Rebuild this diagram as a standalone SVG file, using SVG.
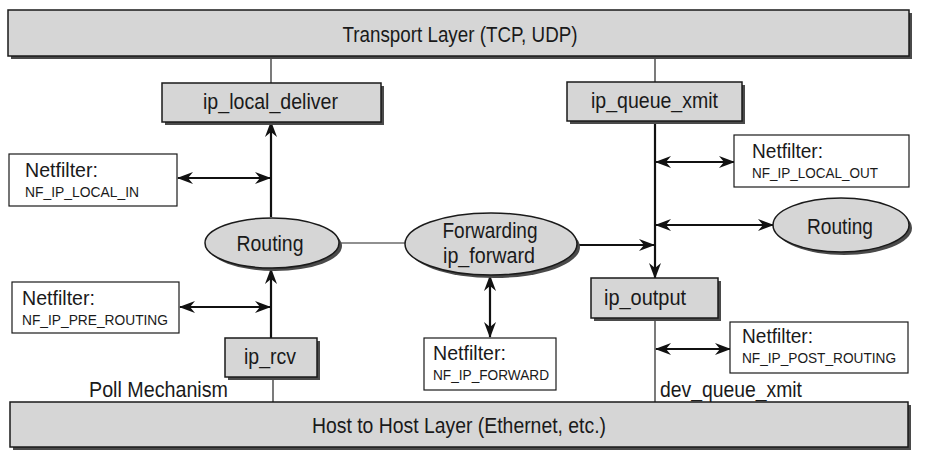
<svg xmlns="http://www.w3.org/2000/svg" width="925" height="462" viewBox="0 0 925 462">
<style>
.box{fill:#d6d6d6;stroke:#1a1a1a;stroke-width:1.5}
.sh{fill:#4a4a4a}
.nf{fill:#fff;stroke:#1a1a1a;stroke-width:1.2}
.t{font-family:"Liberation Sans",Arial,sans-serif;font-size:22px;fill:#1a1a1a}
.tn{font-family:"Liberation Sans",Arial,sans-serif;font-size:20.5px;fill:#1a1a1a}
.ts{font-family:"Liberation Sans",Arial,sans-serif;font-size:15px;fill:#1a1a1a}
.thick{stroke:#111;stroke-width:2.2;fill:none}
.thin{stroke:#222;stroke-width:1.2;fill:none}
</style>
<defs>
<marker id="ah" viewBox="0 0 16 12" refX="15" refY="6" markerWidth="16" markerHeight="12" markerUnits="userSpaceOnUse" orient="auto-start-reverse">
<path d="M0,0 L16,6 L0,12 L5,6 z" fill="#111"/>
</marker>
</defs>
<rect width="925" height="462" fill="#fff"/>

<g id="connectors">
<line class="thin" x1="271" y1="58" x2="271" y2="83"/>
<line class="thin" x1="655" y1="58" x2="655" y2="83"/>
<line class="thick" x1="271" y1="217" x2="271" y2="122" marker-end="url(#ah)"/>
<line class="thick" x1="178" y1="178" x2="270" y2="178" marker-start="url(#ah)" marker-end="url(#ah)"/>
<line class="thin" x1="340" y1="243" x2="406" y2="243"/>
<line class="thick" x1="271" y1="338" x2="271" y2="269" marker-end="url(#ah)"/>
<line class="thick" x1="180" y1="307" x2="270" y2="307" marker-start="url(#ah)" marker-end="url(#ah)"/>
<line class="thin" x1="273" y1="377" x2="273" y2="402"/>
<line class="thick" x1="655" y1="122" x2="655" y2="278" marker-end="url(#ah)"/>
<line class="thick" x1="656" y1="162" x2="734" y2="162" marker-start="url(#ah)" marker-end="url(#ah)"/>
<line class="thick" x1="656" y1="225" x2="773" y2="225" marker-start="url(#ah)" marker-end="url(#ah)"/>
<line class="thick" x1="576" y1="245" x2="654" y2="245" marker-end="url(#ah)"/>
<line class="thick" x1="490" y1="276" x2="490" y2="337" marker-start="url(#ah)" marker-end="url(#ah)"/>
<line class="thin" x1="655" y1="318" x2="655" y2="402"/>
<line class="thick" x1="656" y1="349" x2="730" y2="349" marker-start="url(#ah)" marker-end="url(#ah)"/>
</g>

<g id="transport">
<rect class="sh" x="11" y="13" width="901" height="46"/>
<rect class="box" x="8" y="10" width="901" height="46"/>
<text class="t" x="460" y="42" text-anchor="middle" textLength="235" lengthAdjust="spacingAndGlyphs">Transport Layer (TCP, UDP)</text>
</g>

<g id="ip_local_deliver">
<rect class="sh" x="165" y="86" width="219" height="39"/>
<rect class="box" x="162" y="83" width="219" height="39"/>
<text class="t" x="270.5" y="109" text-anchor="middle" textLength="135" lengthAdjust="spacingAndGlyphs">ip_local_deliver</text>
</g>

<g id="ip_queue_xmit">
<rect class="sh" x="570" y="85" width="175" height="39"/>
<rect class="box" x="567" y="82" width="175" height="39"/>
<text class="t" x="654.5" y="108" text-anchor="middle" textLength="127" lengthAdjust="spacingAndGlyphs">ip_queue_xmit</text>
</g>

<g id="nf_local_in">
<rect class="nf" x="9" y="154" width="168" height="52"/>
<text class="tn" x="25" y="177" textLength="73" lengthAdjust="spacingAndGlyphs">Netfilter:</text>
<text class="ts" x="25" y="197" textLength="114" lengthAdjust="spacingAndGlyphs">NF_IP_LOCAL_IN</text>
</g>

<g id="nf_local_out">
<rect class="nf" x="734" y="135" width="175" height="52"/>
<text class="tn" x="752" y="158" textLength="71" lengthAdjust="spacingAndGlyphs">Netfilter:</text>
<text class="ts" x="752" y="178" textLength="126" lengthAdjust="spacingAndGlyphs">NF_IP_LOCAL_OUT</text>
</g>

<g id="routing_in">
<ellipse class="sh" cx="275" cy="246" rx="67" ry="25"/>
<ellipse class="box" cx="272" cy="243" rx="67" ry="25"/>
<text class="t" x="270" y="251" text-anchor="middle" textLength="67" lengthAdjust="spacingAndGlyphs">Routing</text>
</g>

<g id="forwarding">
<ellipse class="sh" cx="494" cy="247" rx="86" ry="31"/>
<ellipse class="box" cx="491" cy="244" rx="86" ry="31"/>
<text class="t" x="490" y="238" text-anchor="middle" textLength="95" lengthAdjust="spacingAndGlyphs">Forwarding</text>
<text class="t" x="489" y="263" text-anchor="middle" textLength="92" lengthAdjust="spacingAndGlyphs">ip_forward</text>
</g>

<g id="routing_out">
<ellipse class="sh" cx="844" cy="228" rx="68" ry="27"/>
<ellipse class="box" cx="841" cy="225" rx="68" ry="27"/>
<text class="t" x="840" y="234" text-anchor="middle" textLength="66" lengthAdjust="spacingAndGlyphs">Routing</text>
</g>

<g id="nf_pre_routing">
<rect class="nf" x="12" y="282" width="167" height="51"/>
<text class="tn" x="22" y="305" textLength="73" lengthAdjust="spacingAndGlyphs">Netfilter:</text>
<text class="ts" x="22" y="325" textLength="146" lengthAdjust="spacingAndGlyphs">NF_IP_PRE_ROUTING</text>
</g>

<g id="ip_output">
<rect class="sh" x="594" y="281" width="127" height="40"/>
<rect class="box" x="591" y="278" width="127" height="40"/>
<text class="t" x="604" y="305" textLength="82" lengthAdjust="spacingAndGlyphs">ip_output</text>
</g>

<g id="nf_forward">
<rect class="nf" x="424" y="338" width="132" height="52"/>
<text class="tn" x="433" y="360" textLength="73" lengthAdjust="spacingAndGlyphs">Netfilter:</text>
<text class="ts" x="433" y="380" textLength="116" lengthAdjust="spacingAndGlyphs">NF_IP_FORWARD</text>
</g>

<g id="nf_post_routing">
<rect class="nf" x="730" y="322" width="178" height="51"/>
<text class="tn" x="742" y="343" textLength="71" lengthAdjust="spacingAndGlyphs">Netfilter:</text>
<text class="ts" x="742" y="363" textLength="154" lengthAdjust="spacingAndGlyphs">NF_IP_POST_ROUTING</text>
</g>

<g id="ip_rcv">
<rect class="sh" x="228" y="341" width="92" height="39"/>
<rect class="box" x="225" y="338" width="92" height="39"/>
<text class="t" x="270" y="364" text-anchor="middle" textLength="52" lengthAdjust="spacingAndGlyphs">ip_rcv</text>
</g>

<g id="labels">
<text class="t" x="89" y="397" textLength="139" lengthAdjust="spacingAndGlyphs">Poll Mechanism</text>
<text class="t" x="660" y="397" textLength="142" lengthAdjust="spacingAndGlyphs">dev_queue_xmit</text>
</g>

<g id="host">
<rect class="sh" x="13" y="405" width="898" height="45"/>
<rect class="box" x="10" y="402" width="898" height="45"/>
<text class="t" x="459" y="433" text-anchor="middle" textLength="294" lengthAdjust="spacingAndGlyphs">Host to Host Layer (Ethernet, etc.)</text>
</g>
</svg>
